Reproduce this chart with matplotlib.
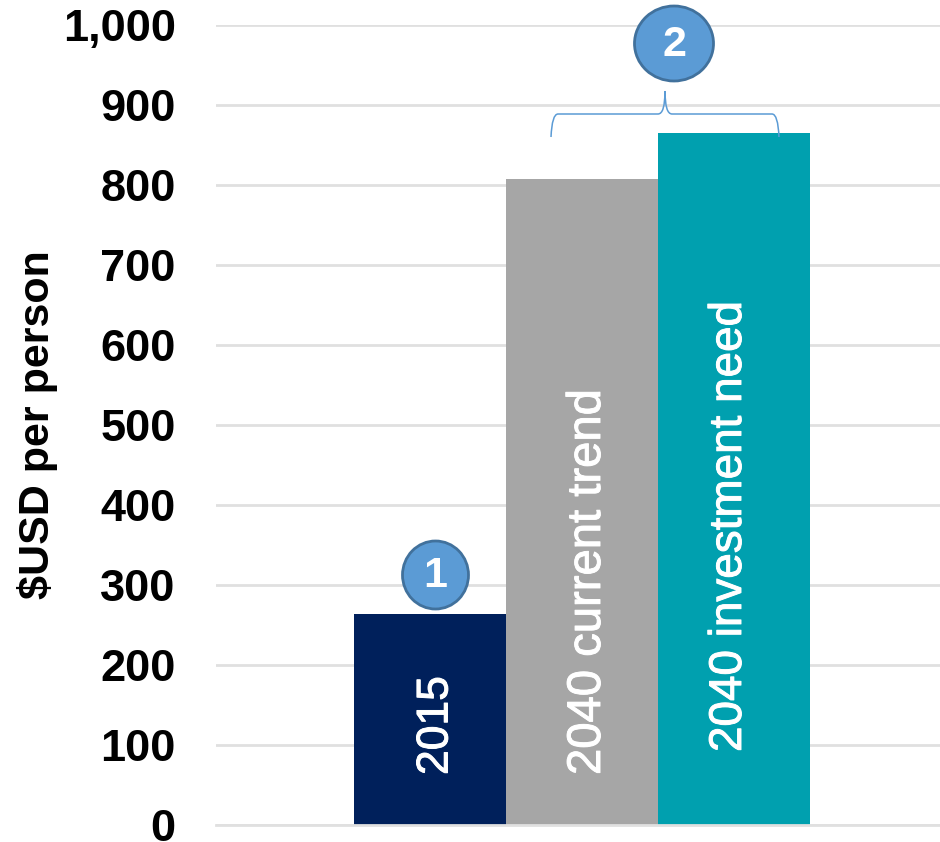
import matplotlib
matplotlib.use("Agg")
import matplotlib.pyplot as plt
import matplotlib.patheffects as pe
from matplotlib.patches import Ellipse, PathPatch
from matplotlib.path import Path
from matplotlib.transforms import ScaledTranslation

plt.rcParams['font.family'] = ['Liberation Sans', 'DejaVu Sans']

labels = ['2015', '2040 current trend', '2040 investment need']
values = [264, 807, 865]
colors = ['#00205B', '#A6A6A6', '#00A0AF']
yticks = [0, 100, 200, 300, 400, 500, 600, 700, 800, 900, 1000]

W, H = 940, 842
fig = plt.figure(figsize=(W / 100, H / 100), dpi=100)

# y: 0 at pixel 825, 1000 at pixel 25
ax = fig.add_axes([216 / W, 1 - 825 / H, (W - 216) / W, 800 / H])
ax.set_xlim(216, 940)
ax.set_ylim(0, 1000)
ax.set_axisbelow(True)
ax.yaxis.grid(True, color='#E0E0E0', lw=2)
ax.set_yticks(yticks)
ax.set_yticklabels([f"{v:,}" for v in yticks], fontsize=32.5, fontweight='bold')
ax.set_xticks([])
ax.tick_params(axis='y', length=0, pad=29)
ax.spines[['top', 'right', 'left']].set_visible(False)
ax.spines['bottom'].set_color('#E0E0E0')
ax.spines['bottom'].set_linewidth(2)

# tick labels sit a little lower than matplotlib centres them
shift = ScaledTranslation(0, -0.3 / 100, fig.dpi_scale_trans)
for t in ax.get_yticklabels():
    t.set_transform(t.get_transform() + shift)

lefts = [354, 506, 658]
ax.bar(lefts, values, width=152, align='edge', color=colors, zorder=2)

# labels inside the bars, rotated
text_centres = [436, 588, 729]
text_bottoms = [775, 775, 752]
text_sizes = [32, 34, 33]
for xc, lab, tb, fs in zip(text_centres, labels, text_bottoms, text_sizes):
    fig.text(xc / W, 1 - tb / H, lab, rotation=90, ha='center', va='bottom',
             color='white', fontsize=fs, zorder=5,
             path_effects=[pe.withStroke(linewidth=0.7, foreground='white')])

fig.text(38 / W, 1 - 425 / H, '$USD per person', rotation=90, ha='center', va='center',
         fontsize=31, fontweight='bold')

# overlay in pixel coordinates
ov = fig.add_axes([0, 0, 1, 1], facecolor='none')
ov.set_xlim(0, W)
ov.set_ylim(H, 0)
ov.axis('off')

for cx, cy, w, h, num in [(435.5, 575, 66, 68, '1'), (674, 43.5, 79, 75, '2')]:
    ov.add_patch(Ellipse((cx, cy), w, h, fc='#5B9BD5', ec='#41719C', lw=2))
    ov.text(cx, cy + 1, num, color='white', fontsize=31, fontweight='bold', ha='center', va='center')

# brace over the two 2040 bars
brace = Path(
    [(551, 137), (552, 114), (558, 114), (658, 114), (665, 114), (665, 91),
     (665, 114), (672, 114), (772, 114), (778, 114), (779, 137)],
    [Path.MOVETO, Path.CURVE3, Path.CURVE3, Path.LINETO, Path.CURVE3, Path.CURVE3,
     Path.CURVE3, Path.CURVE3, Path.LINETO, Path.CURVE3, Path.CURVE3])
ov.add_patch(PathPatch(brace, fc='none', ec='#5B9BD5', lw=1.1))

fig.savefig('out.png', dpi=100)
